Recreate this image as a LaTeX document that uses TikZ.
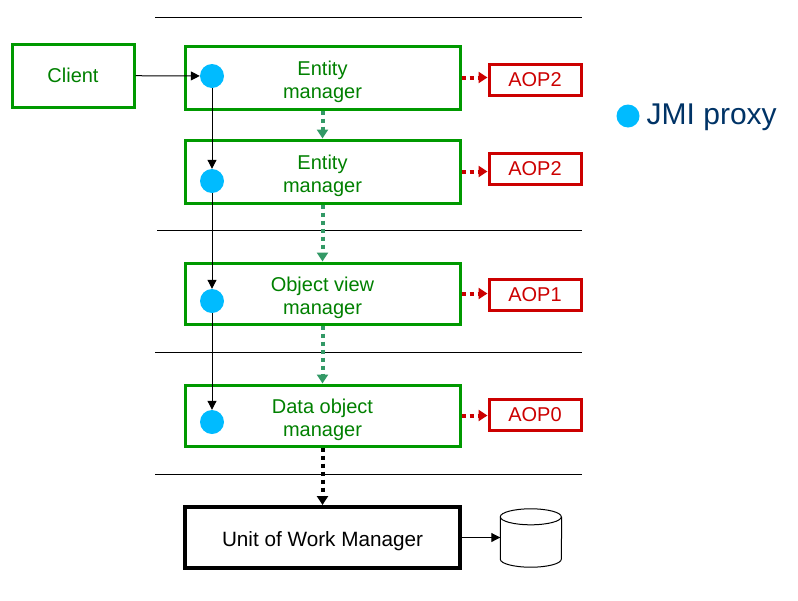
\documentclass[tikz,border=0pt]{standalone}
\usepackage{fontspec}
\setmainfont{Liberation Sans}
\usetikzlibrary{arrows.meta}
\definecolor{boxgreen}{RGB}{0,153,0}
\definecolor{txtgreen}{RGB}{0,128,0}
\definecolor{aopred}{RGB}{204,0,0}
\definecolor{dotblue}{RGB}{0,187,255}
\definecolor{navy}{RGB}{0,51,102}
\definecolor{dotgreen}{RGB}{51,153,102}
\newcommand\topfill[1]{\rule{0pt}{#1}}
\begin{document}
\begin{tikzpicture}[x=1pt,y=-1pt,
  mgr/.style={draw=boxgreen,line width=3pt,minimum width=275pt,minimum height=63pt,inner sep=0pt,align=center,text=txtgreen,font=\fontsize{20}{22.5}\selectfont},
  aopbox/.style={draw=aopred,line width=3pt,minimum width=92pt,minimum height=31pt,inner sep=0pt,text=aopred,font=\fontsize{20}{23}\selectfont},
  proxy/.style={circle,fill=dotblue,minimum size=24pt,inner sep=0pt},
  conn/.style={line width=1pt,-{Triangle[length=9pt,width=9pt]}},
  greenflow/.style={draw=dotgreen,line width=4pt,dash pattern=on 4pt off 4pt,-{Triangle[length=9pt,width=11pt]}},
  redflow/.style={draw=aopred,line width=4pt,dash pattern=on 4pt off 4pt,-{Triangle[length=9pt,width=11pt]}},
  blackflow/.style={draw=black,line width=4pt,dash pattern=on 4pt off 4pt,-{Triangle[length=9pt,width=11pt]}},
  sepline/.style={line width=1pt,black}
]
\useasboundingbox (0,0) rectangle (798,600);

% separator lines
\draw[sepline] (155,17) -- (582,17);
\draw[sepline] (157,230) -- (582,230);
\draw[sepline] (155,352) -- (582,352);
\draw[sepline] (155,474) -- (582,474);

% boxes
\node[mgr,minimum width=122pt] (client) at (73,75.5) {Client};
\node[mgr] (em1) at (322.5,77.5) {\topfill{23.5pt}Entity\\manager};
\node[mgr] (em2) at (322.5,171.5) {\topfill{23.5pt}Entity\\manager};
\node[mgr,minimum height=61pt] (ovm) at (322.5,293.5) {\topfill{23.5pt}Object view\\manager};
\node[mgr,minimum height=61pt] (dom) at (322.5,415.5) {\topfill{23.5pt}Data object\\manager};
\node[mgr,draw=black,line width=4pt,text=black,minimum height=61pt,font=\fontsize{20.7}{23}\selectfont] (uow) at (322.5,537.5) {\topfill{21.5pt}Unit of Work Manager};

\node[aopbox] (a1) at (535,79.5) {AOP2};
\node[aopbox] (a2) at (535,168.5) {AOP2};
\node[aopbox] (a3) at (535,294.5) {AOP1};
\node[aopbox] (a4) at (535,414.5) {AOP0};

% proxies
\node[proxy] (d1) at (212,76) {};
\node[proxy] (d2) at (212,181) {};
\node[proxy] (d3) at (212,301) {};
\node[proxy] (d4) at (212,422) {};

% database
\node[minimum width=61pt,minimum height=58pt,inner sep=0pt] (db) at (531,538) {};
\draw[line width=1pt] ([yshift=-8pt]db.north west) arc[start angle=180,end angle=-180,x radius=30.5pt,y radius=8pt];
\draw[line width=1pt] ([yshift=-8pt]db.north west) -- ([yshift=8pt]db.south west)
  arc[start angle=180,end angle=360,x radius=30.5pt,y radius=8pt] -- ([yshift=-8pt]db.north east);

% connectors
\draw[conn] (client) -- (d1);
\draw[conn] (d1) -- (d2);
\draw[conn] (d2) -- (d3);
\draw[conn] (d3) -- (d4);

\draw[greenflow] (em1.south) -- (em2.north);
\draw[greenflow] (em2.south) -- (ovm.north);
\draw[greenflow] (ovm.south) -- (dom.north);
\draw[blackflow] (dom.south) -- (uow.north);

\draw[redflow] (em1.east) -- (em1.east -| a1.west);
\draw[redflow] (em2.east) -- (em2.east -| a2.west);
\draw[redflow] (ovm.east) -- (ovm.east -| a3.west);
\draw[redflow] (dom.east) -- (dom.east -| a4.west);

\draw[conn] (uow.east) -- (uow.east -| db.west);

% legend
\node[proxy,minimum size=23pt] (ld) at (628,116) {};
\node[anchor=west,inner sep=0pt,text=navy,font=\fontsize{30}{33}\selectfont] (lt) at (646.5,117) {JMI proxy};
\end{tikzpicture}
\end{document}
